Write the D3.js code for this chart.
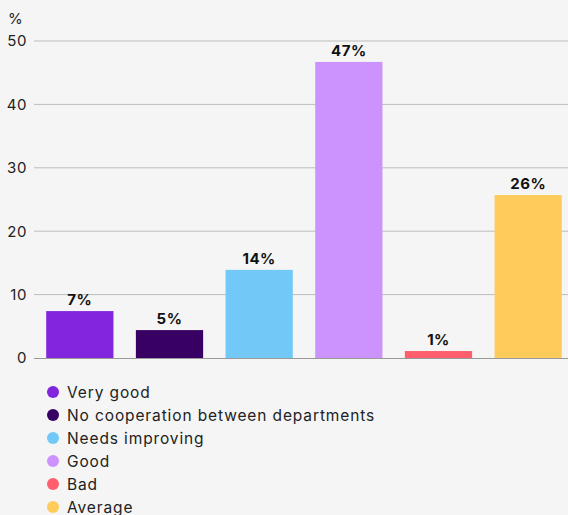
<!DOCTYPE html>
<html><head><meta charset="utf-8">
<script src="https://cdn.jsdelivr.net/npm/d3@7"></script>
<style>
html,body{margin:0;padding:0;background:#f5f5f5;}
svg{display:block;font-family:Inter, "Noto Sans", sans-serif;}
</style></head>
<body><svg id="c" width="568" height="515"></svg>
<script>
const categories = ["Very good","No cooperation between departments","Needs improving","Good","Bad","Average"];
const values = [7.4, 4.4, 13.9, 46.7, 1.1, 25.7];
const labels = ["7%","5%","14%","47%","1%","26%"];
const colors = ["#8125de","#380062","#72c8f7","#cc93ff","#ff5f6d","#ffcc5b"];
const yTicks = [0,10,20,30,40,50];

const svg = d3.select("#c");
svg.append("rect").attr("width",568).attr("height",515).attr("fill","#f5f5f5");

const x = d3.scaleBand().domain(categories).range([35,573]).paddingInner(0.25).paddingOuter(0.125);
const y = d3.scaleLinear().domain([0,50]).range([358,41]);

const grid = svg.append("g");
grid.selectAll("line").data(yTicks.filter(d=>d>0)).join("line")
  .attr("x1",34).attr("x2",568).attr("y1",d=>y(d)).attr("y2",d=>y(d))
  .attr("stroke","#bdbdbd").attr("stroke-width",1);

const yAxis = svg.append("g").attr("transform","translate(34,0)")
  .call(d3.axisLeft(y).tickValues(yTicks).tickSize(0).tickPadding(7));
yAxis.select(".domain").remove();
yAxis.selectAll("text").attr("font-size",15).attr("fill","#222").attr("font-family","Inter, sans-serif")
  .attr("letter-spacing",0.6);

svg.append("text").attr("x",8).attr("y",24).attr("font-size",15).attr("fill","#222").text("%");

svg.selectAll(".bar").data(categories).join("rect").attr("class","bar")
  .attr("x",d=>x(d)).attr("width",x.bandwidth())
  .attr("y",(d,i)=>y(values[i])).attr("height",(d,i)=>y(0)-y(values[i]))
  .attr("fill",(d,i)=>colors[i]);

svg.append("line").attr("x1",34).attr("x2",568).attr("y1",y(0)+0.5).attr("y2",y(0)+0.5)
  .attr("stroke","#999").attr("stroke-width",1.2);

svg.selectAll(".val").data(categories).join("text").attr("class","val")
  .attr("x",d=>x(d)+x.bandwidth()/2).attr("y",(d,i)=>y(values[i])-6)
  .attr("text-anchor","middle").attr("font-size",15).attr("font-weight",700).attr("fill","#111")
  .attr("letter-spacing",0.5)
  .text((d,i)=>labels[i]);

const leg = svg.append("g");
const rows = leg.selectAll("g").data(categories).join("g")
  .attr("transform",(d,i)=>`translate(53,${392+i*23})`);
rows.append("circle").attr("r",6).attr("fill",(d,i)=>colors[i]);
rows.append("text").attr("x",14).attr("y",5.5).attr("font-size",15.5).attr("fill","#222")
  .attr("letter-spacing",0.88).text(d=>d);
</script></body></html>
